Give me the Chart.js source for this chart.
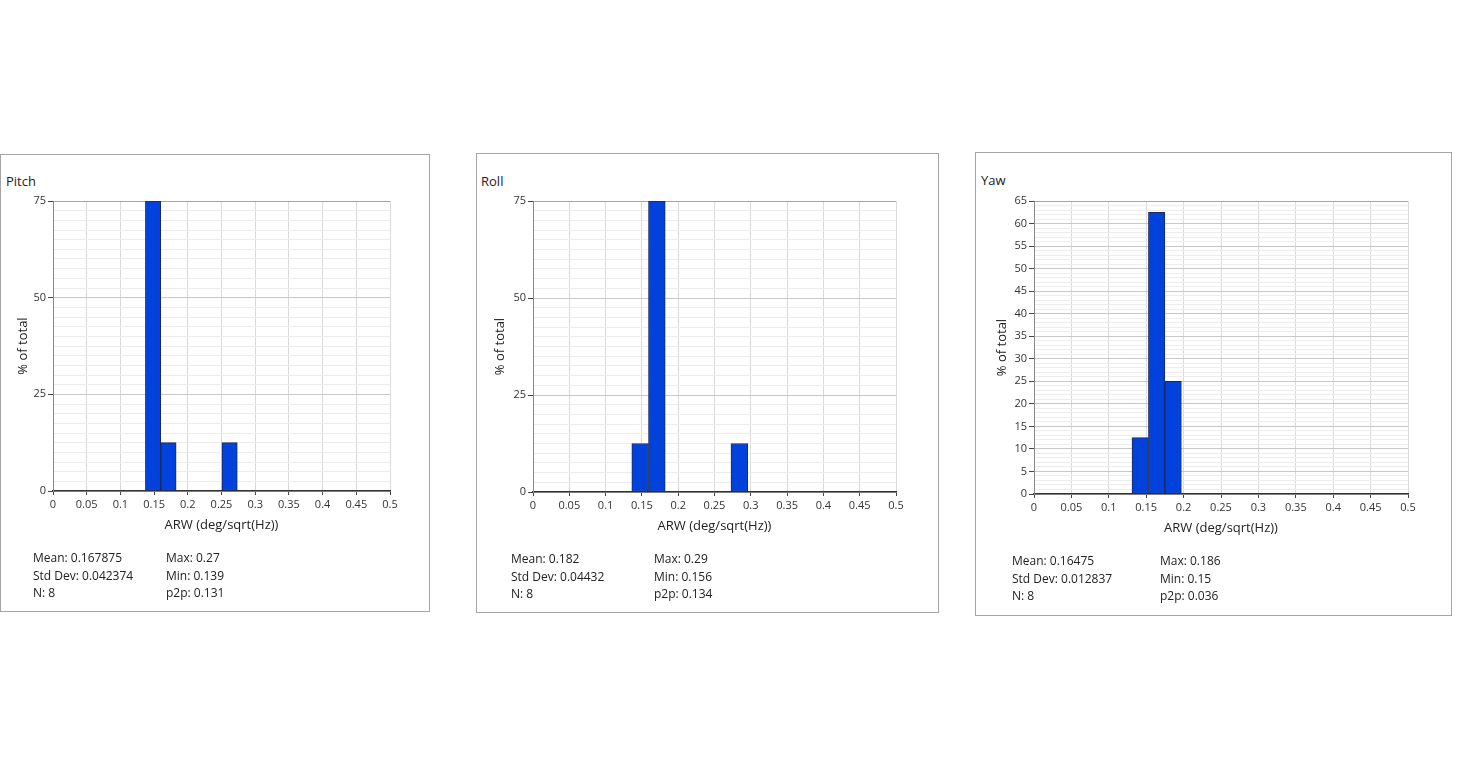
<!DOCTYPE html>
<html>
<head>
<meta charset="utf-8">
<script src="https://cdn.jsdelivr.net/npm/chart.js@4.4.1/dist/chart.umd.min.js"></script>
<style>
  body { margin: 0; background: #fff; font-family: "Open Sans", sans-serif; color: #222; }
  .panel { position: absolute; border: 1px solid #a5a5a5; box-sizing: border-box; }
  canvas { position: absolute; }
  .title { position: absolute; font-size: 13px; line-height: 16px; }
  .stats { position: absolute; font-size: 12px; line-height: 17.5px; white-space: pre; }
</style>
</head>
<body>
<div class="panel" style="left:0px;top:154px;width:430px;height:458px"></div>
<div class="panel" style="left:476px;top:153px;width:463px;height:460px"></div>
<div class="panel" style="left:975px;top:152px;width:477px;height:464px"></div>

<div class="title" style="left:6px;top:173px">Pitch</div>
<div class="title" style="left:481px;top:173px">Roll</div>
<div class="title" style="left:981px;top:172px">Yaw</div>

<canvas id="pitch" width="428" height="456" style="left:1px;top:155px"></canvas>
<canvas id="roll" width="461" height="458" style="left:477px;top:154px"></canvas>
<canvas id="yaw" width="475" height="461" style="left:976px;top:153px"></canvas>

<div class="stats" id="pitchLeft" style="left:33px;top:549px"></div>
<div class="stats" id="pitchRight" style="left:166px;top:549px"></div>
<div class="stats" id="rollLeft" style="left:511px;top:550px"></div>
<div class="stats" id="rollRight" style="left:654px;top:550px"></div>
<div class="stats" id="yawLeft" style="left:1012px;top:552px"></div>
<div class="stats" id="yawRight" style="left:1160px;top:552px"></div>

<script>
// histogram data: bin centres (deg/sqrt(Hz)) and % of total
const xTickLabels = ["0", "0.05", "0.1", "0.15", "0.2", "0.25", "0.3", "0.35", "0.4", "0.45", "0.5"];

const pitchBins = [0.1485, 0.1713, 0.262];
const pitchPercent = [75, 12.5, 12.5];
const pitchYLabels = [0, 25, 50, 75];

const rollBins = [0.1476, 0.1706, 0.2842];
const rollPercent = [12.5, 75, 12.5];
const rollYLabels = [0, 25, 50, 75];

const yawBins = [0.142, 0.164, 0.186];
const yawPercent = [12.5, 62.5, 25];
const yawYLabels = [0, 5, 10, 15, 20, 25, 30, 35, 40, 45, 50, 55, 60, 65];

const pitchStats = ["Mean: 0.167875", "Std Dev: 0.042374", "N: 8"];
const pitchStats2 = ["Max: 0.27", "Min: 0.139", "p2p: 0.131"];
const rollStats = ["Mean: 0.182", "Std Dev: 0.04432", "N: 8"];
const rollStats2 = ["Max: 0.29", "Min: 0.156", "p2p: 0.134"];
const yawStats = ["Mean: 0.16475", "Std Dev: 0.012837", "N: 8"];
const yawStats2 = ["Max: 0.186", "Min: 0.15", "p2p: 0.036"];

Chart.defaults.font.family = "'Open Sans', sans-serif";

const makeHist = (id, bins, percent, yLabels, yStep, box) => {
  const yMax = yLabels[yLabels.length - 1];
  return new Chart(document.getElementById(id), {
    type: "bar",
    data: {
      datasets: [{
        data: bins.map((b, i) => ({ x: b, y: percent[i] })),
        backgroundColor: "#0242dc",
        borderColor: "#1c2a55",
        borderWidth: 1,
        borderSkipped: false,
        barPercentage: 1,
        categoryPercentage: 1,
      }],
    },
    options: {
      responsive: false,
      animation: false,
      layout: { padding: { top: box.top, right: box.right, bottom: box.bottom, left: 0 } },
      plugins: { legend: { display: false }, tooltip: { enabled: false } },
      scales: {
        x: {
          type: "linear",
          min: 0,
          max: 0.5,
          offset: false,
          ticks: {
            stepSize: 0.05,
            autoSkip: false,
            maxRotation: 0,
            padding: 3,
            color: "#333",
            font: { size: 11 },
            callback: (v, i) => xTickLabels[i],
          },
          grid: { offset: false, color: "#dadada", tickColor: "#444", tickLength: 4 },
          border: { color: "#333", width: 1.5 },
          title: { display: true, text: "ARW (deg/sqrt(Hz))", color: "#222", font: { size: 13 }, padding: 0 },
          afterFit: (s) => { s.height = box.xAxis; },
        },
        y: {
          min: 0,
          max: yMax,
          ticks: {
            stepSize: yStep,
            autoSkip: false,
            padding: 2,
            color: "#333",
            font: { size: 11 },
            callback: (v) => (yLabels.includes(v) ? String(v) : ""),
          },
          grid: {
            color: (c) => {
              if (!c.tick) return "#ececec";
              if (c.tick.value === yMax) return "#a5a5a5";
              return yLabels.includes(c.tick.value) ? "#c8c8c8" : "#ededed";
            },
            tickColor: (c) => (c.tick && yLabels.includes(c.tick.value) ? "#444" : "rgba(0,0,0,0)"),
            tickLength: 5,
          },
          border: { color: "#8a8a8a" },
          title: { display: true, text: "% of total", color: "#222", font: { size: 13 }, padding: { top: box.yTitle } },
          afterFit: (s) => { s.width = box.yAxis; },
        },
      },
    },
  });
};

makeHist("pitch", pitchBins, pitchPercent, pitchYLabels, 2.5,
  { top: 46, right: 39, bottom: 78, yAxis: 52, xAxis: 42, yTitle: 14 });
makeHist("roll", rollBins, rollPercent, rollYLabels, 2.5,
  { top: 47, right: 42, bottom: 78, yAxis: 56, xAxis: 42, yTitle: 15 });
makeHist("yaw", yawBins, yawPercent, yawYLabels, 1,
  { top: 48, right: 43, bottom: 78, yAxis: 58, xAxis: 42, yTitle: 18 });

document.getElementById("pitchLeft").textContent = pitchStats.join("\n");
document.getElementById("pitchRight").textContent = pitchStats2.join("\n");
document.getElementById("rollLeft").textContent = rollStats.join("\n");
document.getElementById("rollRight").textContent = rollStats2.join("\n");
document.getElementById("yawLeft").textContent = yawStats.join("\n");
document.getElementById("yawRight").textContent = yawStats2.join("\n");
</script>
</body>
</html>
